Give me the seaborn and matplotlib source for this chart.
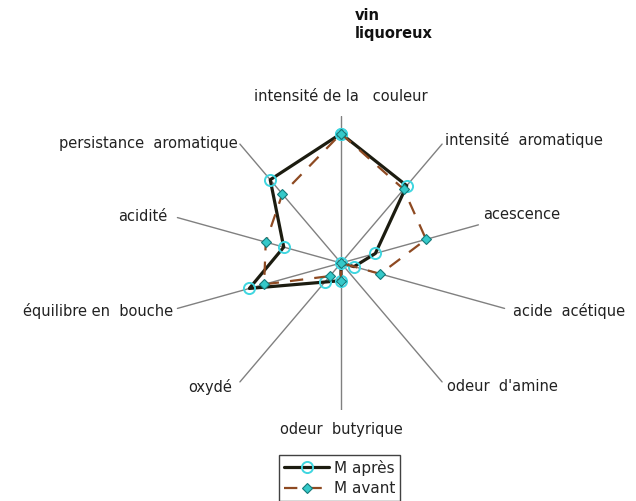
import numpy as np
import matplotlib
matplotlib.use("Agg")
import matplotlib.pyplot as plt
import seaborn as sns

# ---- data ----
criteres = ["intensité de la   couleur", "intensité  aromatique", "acescence",
            "acide  acétique", "odeur  d'amine", "odeur  butyrique", "oxydé",
            "équilibre en  bouche", "acidité", "persistance  aromatique"]
m_apres = [8.8, 6.5, 2.1, 0.8, 0.0, 1.2, 1.6, 5.6, 3.5, 7.0]
m_avant = [8.8, 6.2, 5.2, 2.4, 0.0, 1.2, 1.1, 4.7, 4.6, 5.8]
series_names = ["M après", "M avant"]
titre = "vin\nliquoreux"
vmax = 10.0

sns.set_style("white")
plt.rcParams["font.family"] = ["DejaVu Sans"]

W, H = 636, 501
fig = plt.figure(figsize=(W / 100, H / 100), dpi=100)
# chart area: centre (341,263) px, radius 172 px horizontally, 147 px vertically
cx, cy, rx, ry = 341, 263, 172, 147
ax = fig.add_axes([(cx - rx) / W, (H - (cy + ry)) / H, 2 * rx / W, 2 * ry / H])
ax.set_xlim(-vmax, vmax)
ax.set_ylim(-vmax, vmax)
ax.set_axis_off()

n = len(criteres)
ang = np.arange(n) * 2 * np.pi / n
sx, cyv = np.sin(ang), np.cos(ang)

# axis spokes (the acescence spoke stops at its label, as in the original)
spoke_len = [vmax] * n
spoke_len[2] = 0.84 * vmax
for s, c, L in zip(sx, cyv, spoke_len):
    ax.plot([0, L * s], [0, L * c], color="#808080", lw=1.0, zorder=1)

def closed(vals):
    v = np.array(vals + vals[:1], dtype=float)
    a = np.append(ang, ang[0])
    return v * np.sin(a), v * np.cos(a)

xa, ya = closed(m_apres)
xb, yb = closed(m_avant)

sns.lineplot(x=xa, y=ya, sort=False, estimator=None, ax=ax, color="#1c1c10", lw=2.3,
             marker="o", markersize=8, markerfacecolor="none", markeredgecolor="#3fd6e0",
             markeredgewidth=1.4, label=series_names[0], zorder=3, legend=False)
sns.lineplot(x=xb, y=yb, sort=False, estimator=None, ax=ax, color="#8e4a22", lw=1.6,
             linestyle=(0, (6, 5)), marker="D", markersize=5, markerfacecolor="#35c9c9",
             markeredgecolor="#147a7a", markeredgewidth=0.8, label=series_names[1],
             zorder=4, legend=False)

# category labels
lab_pos = [(0, 11.3, "center"), (6.05, 8.37, "left"), (8.26, 3.27, "left"),
           (10.0, -3.27, "left"), (6.16, -8.37, "left"), (0, -11.36, "center"),
           (-6.34, -8.44, "right"), (-9.77, -3.27, "right"), (-10.1, 3.13, "right"),
           (-5.99, 8.16, "right")]
for lab, (x, y, ha) in zip(criteres, lab_pos):
    ax.text(x, y, lab, ha=ha, va="center", fontsize=10.5, color="#222222", clip_on=False)

fig.text(355 / W, 1 - 8 / H, titre, ha="left", va="top", fontsize=10.5,
         fontweight="bold", color="#111111", linespacing=1.25)

lines = ax.get_lines()[-2:]
leg = fig.legend(lines, series_names, loc="upper left",
                 bbox_to_anchor=(279 / W, 1 - 455 / H), frameon=True, fancybox=False,
                 fontsize=11, handlelength=3.0, handletextpad=0.3, borderpad=0.3,
                 labelspacing=0.35, borderaxespad=0)
leg.get_frame().set_edgecolor("#111111")
leg.get_frame().set_linewidth(1.0)

fig.savefig("out.png", dpi=100, facecolor="white")
